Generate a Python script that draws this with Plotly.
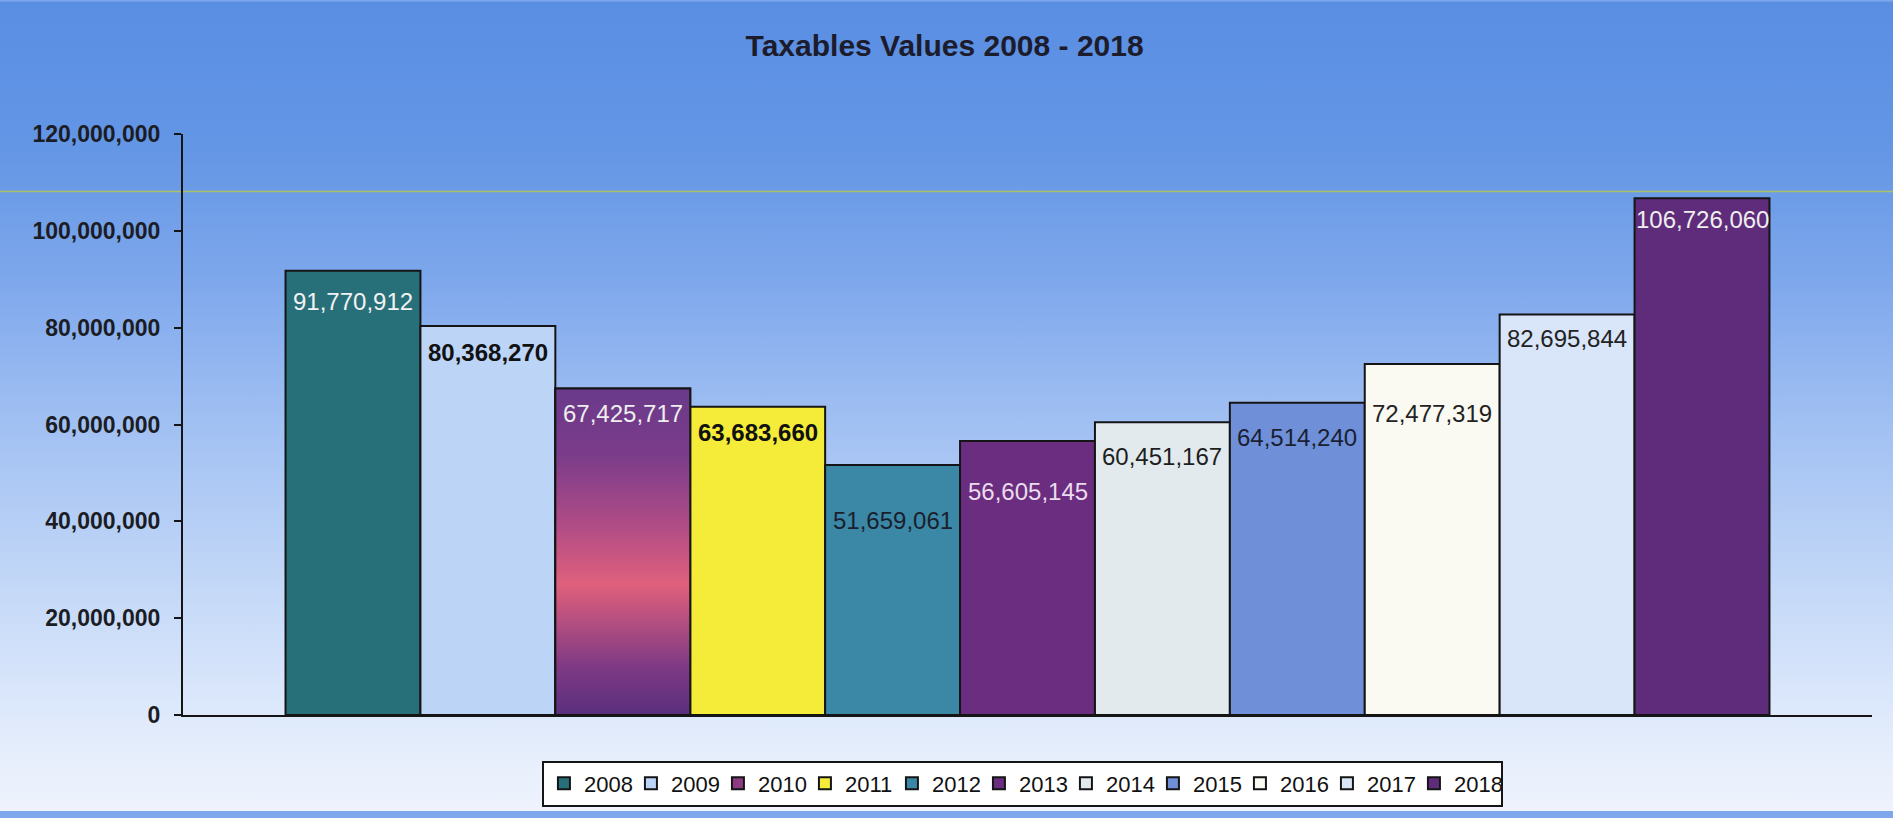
import base64
import plotly.graph_objects as go

# ---------------- data ----------------
years = ["2008", "2009", "2010", "2011", "2012", "2013", "2014", "2015", "2016", "2017", "2018"]
values = [91770912, 80368270, 67425717, 63683660, 51659061, 56605145,
          60451167, 64514240, 72477319, 82695844, 106726060]
y_ticks = [0, 20000000, 40000000, 60000000, 80000000, 100000000, 120000000]
title_text = "Taxables Values 2008 - 2018"

# ---------------- styles ----------------
bar_colors = ["#27707a", "#bcd4f6", "#8d3a82", "#f4ec38", "#3a88a6", "#6a2d80",
              "#e2eaee", "#6f8fd8", "#fafaf3", "#d9e5f9", "#5e2c7a"]
label_colors = ["#f2f2f2", "#111111", "#eeeeee", "#111111", "#1a1f2e", "#eadcec",
                "#1e1e1e", "#1a1f33", "#222222", "#222222", "#eeeeee"]
label_bold = [False, True, False, True, False, False, False, False, False, False, False]
label_drop = [31, 27, 25, 26, 56, 51, 34, 35, 49, 24, 21]
gradient_year = "2010"
gradient_scale = [[0.0, "#5a2f7e"], [0.15, "#7f3a84"], [0.4, "#e0607c"],
                  [0.58, "#b04c86"], [0.8, "#7a3c8a"], [1.0, "#6a3a8a"]]

W, H = 1893, 818
ML, MR, MT, MB = 183, 21, 134, 97
PW, PH = W - ML - MR, H - MT - MB

fig = go.Figure()
for i, (yr, v) in enumerate(zip(years, values)):
    fig.add_trace(go.Bar(
        x=[i], y=[v], width=[1.0], name=yr,
        marker=dict(color=bar_colors[i], line=dict(color="#151515", width=2)),
        hovertemplate=f"{yr}: %{{y:,}}<extra></extra>",
    ))

# gradient overlay for the 2010 column (rectangle derived from the data value)
gi = years.index(gradient_year)
gv = values[gi]
fig.add_trace(go.Scatter(
    x=[gi - 0.5, gi + 0.5, gi + 0.5, gi - 0.5, gi - 0.5],
    y=[0, 0, gv, gv, 0],
    mode="lines", fill="toself",
    fillgradient=dict(type="vertical", colorscale=gradient_scale, start=0, stop=gv),
    line=dict(color="#151515", width=2),
    showlegend=False, hoverinfo="skip",
))

# value labels
for i, v in enumerate(values):
    txt = f"{v:,}"
    if label_bold[i]:
        txt = f"<b>{txt}</b>"
    fig.add_annotation(
        x=i, y=v, xref="x", yref="y", text=txt, showarrow=False,
        yshift=-label_drop[i], yanchor="middle", xanchor="center",
        font=dict(family="Arial, Liberation Sans", size=24, color=label_colors[i]),
    )

# background gradient image
stops = [(0.0, "#5a8ee3"), (0.18, "#6396e5"), (0.35, "#7fa8ec"), (0.5, "#9dbdf2"),
         (0.68, "#bcd3f6"), (0.85, "#d9e6fb"), (0.95, "#e9f0fc"), (1.0, "#eef3fd")]
stop_xml = "".join(f'<stop offset="{o}" stop-color="{c}"/>' for o, c in stops)
svg = (f'<svg xmlns="http://www.w3.org/2000/svg" width="{W}" height="{H}" '
       f'viewBox="0 0 {W} {H}" preserveAspectRatio="none">'
       f'<defs><linearGradient id="g" x1="0" y1="0" x2="0" y2="1">{stop_xml}</linearGradient></defs>'
       f'<rect x="0" y="0" width="{W}" height="{H}" fill="url(#g)"/></svg>')
src = "data:image/svg+xml;base64," + base64.b64encode(svg.encode()).decode()

fig.add_layout_image(dict(
    source=src, xref="paper", yref="paper",
    x=-ML / PW, y=1 + MT / PH, sizex=W / PW, sizey=H / PH,
    xanchor="left", yanchor="top", sizing="stretch", layer="below",
))

# scanned green line
fig.add_shape(type="line", xref="paper", yref="paper",
              x0=-ML / PW, x1=1 + MR / PW, y0=(721 - 192) / PH, y1=(721 - 192) / PH,
              line=dict(color="#a9c266", width=1.5), layer="below")

fig.update_layout(
    width=W, height=H,
    margin=dict(l=ML, r=MR, t=MT, b=MB, pad=0),
    paper_bgcolor="#7fa8ec", plot_bgcolor="rgba(0,0,0,0)",
    barmode="overlay",
    showlegend=True,
    title=dict(text=f"<b>{title_text}</b>", x=0.499, xanchor="center",
               y=1 - 45 / H, yanchor="middle",
               font=dict(family="Arial, Liberation Sans", size=30, color="#1c1c2c")),
    xaxis=dict(range=[-1.26, 11.26], showticklabels=False, ticks="", showgrid=False,
               zeroline=False, showline=True, linecolor="#151515", linewidth=2),
    yaxis=dict(range=[0, 120000000], tickvals=y_ticks, tickformat=",",
               ticks="outside", ticklen=7, tickwidth=2, tickcolor="#151515",
               showgrid=False, zeroline=False, showline=True, linecolor="#151515",
               linewidth=2, ticklabelstandoff=9,
               tickfont=dict(family="Arial, Liberation Sans", size=23, color="#1c1c24",
                             weight="bold")),
    legend=dict(orientation="h", x=0.497, xanchor="center", y=(721 - 767) / PH,
                yanchor="top", bgcolor="#ffffff", bordercolor="#151515", borderwidth=2,
                font=dict(family="Arial, Liberation Sans", size=22, color="#111111"),
                entrywidth=42, entrywidthmode="pixels", traceorder="normal",
                itemclick=False),
)

fig.write_html("out.html")
